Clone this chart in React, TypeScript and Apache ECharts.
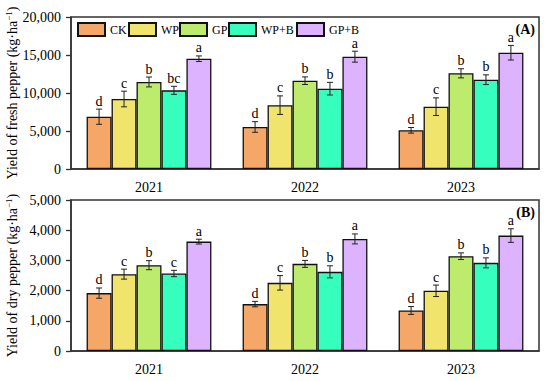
import React, { useEffect, useRef } from "react";
import * as echarts from "echarts";

const years = ["2021", "2022", "2023"];
const treatments = ["CK", "WP", "GP", "WP+B", "GP+B"];
const colors = ["#F4A766", "#F0E46C", "#BDEB6B", "#36FFBE", "#DDB3FF"];

// Fresh yield (kg·ha-1), per treatment, per year
const freshCK = [6880, 5530, 5090];
const freshWP = [9210, 8400, 8200];
const freshGP = [11450, 11620, 12590];
const freshWPB = [10350, 10570, 11750];
const freshGPB = [14510, 14780, 15300];
const freshErrCK = [1000, 700, 370];
const freshErrWP = [1030, 1220, 1160];
const freshErrGP = [650, 500, 600];
const freshErrWPB = [530, 830, 640];
const freshErrGPB = [370, 720, 960];
const freshLetters = [
  ["d", "d", "d"],
  ["c", "c", "c"],
  ["b", "b", "b"],
  ["bc", "b", "b"],
  ["a", "a", "a"],
];

// Dry yield (kg·ha-1)
const dryCK = [1917, 1553, 1342];
const dryWP = [2545, 2257, 1993];
const dryGP = [2842, 2885, 3139];
const dryWPB = [2566, 2621, 2919];
const dryGPB = [3622, 3711, 3822];
const dryErrCK = [170, 90, 130];
const dryErrWP = [165, 240, 190];
const dryErrGP = [150, 115, 110];
const dryErrWPB = [105, 200, 165];
const dryErrGPB = [80, 165, 225];
const dryLetters = [
  ["d", "d", "d"],
  ["c", "c", "c"],
  ["b", "b", "b"],
  ["c", "b", "b"],
  ["a", "a", "a"],
];

const freshTicksMax = 20000;
const freshInterval = 5000;
const dryTicksMax = 5000;
const dryInterval = 1000;

const FONT = "Liberation Serif";
const legendLefts = [77, 128, 179, 228, 296];

export default function App() {
  const ref = useRef<HTMLDivElement>(null);
  useEffect(() => {
    if (!ref.current) return;
    document.body.style.margin = "0";
    const chart = echarts.init(ref.current, undefined, { renderer: "svg" });

    const fresh = [freshCK, freshWP, freshGP, freshWPB, freshGPB];
    const freshErr = [freshErrCK, freshErrWP, freshErrGP, freshErrWPB, freshErrGPB];
    const dry = [dryCK, dryWP, dryGP, dryWPB, dryGPB];
    const dryErr = [dryErrCK, dryErrWP, dryErrGP, dryErrWPB, dryErrGPB];

    const barSeries: any[] = [];
    [0, 1].forEach((g) => {
      const vals = g === 0 ? fresh : dry;
      treatments.forEach((t, i) => {
        barSeries.push({
          type: "bar",
          name: t,
          xAxisIndex: g,
          yAxisIndex: g,
          data: vals[i],
          barGap: "0%",
          barCategoryGap: "20%",
          itemStyle: { color: colors[i], borderColor: "#111", borderWidth: 1.3 },
        });
      });
    });

    const makeErr = (g: number) => {
      const vals = g === 0 ? fresh : dry;
      const errs = g === 0 ? freshErr : dryErr;
      const letters = g === 0 ? freshLetters : dryLetters;
      const data: number[][] = [];
      const lab: string[] = [];
      treatments.forEach((_, s) => {
        years.forEach((_, c) => {
          data.push([c, vals[s][c], errs[s][c], s]);
          lab.push(letters[s][c]);
        });
      });
      return {
        type: "custom",
        xAxisIndex: g,
        yAxisIndex: g,
        silent: true,
        data,
        z: 10,
        renderItem: (params: any, api: any) => {
          const c = api.value(0);
          const v = api.value(1);
          const e = api.value(2);
          const s = api.value(3);
          const center = api.coord([c, v]);
          const band = api.size([1, 0])[0];
          const bw = (band * 0.8) / 5;
          const x = center[0] + (s - 2) * bw;
          const top = api.coord([c, v + e])[1];
          const bot = api.coord([c, v - e])[1];
          const cap = 3;
          const st = { stroke: "#222", lineWidth: 1 };
          return {
            type: "group",
            children: [
              { type: "line", shape: { x1: x, y1: top, x2: x, y2: bot }, style: st },
              { type: "line", shape: { x1: x - cap, y1: top, x2: x + cap, y2: top }, style: st },
              { type: "line", shape: { x1: x - cap, y1: bot, x2: x + cap, y2: bot }, style: st },
              {
                type: "text",
                x: x,
                y: top - 1,
                style: {
                  text: lab[params.dataIndex],
                  fill: "#000",
                  fontSize: 14,
                  fontFamily: FONT,
                  align: "center",
                  verticalAlign: "bottom",
                },
              },
            ],
          };
        },
      };
    };

    const fmt = (v: number) => v.toLocaleString("en-US");

    const xAxisCommon = {
      type: "category",
      data: years,
      axisLine: { lineStyle: { color: "#333", width: 1.5 } },
      axisTick: { alignWithLabel: true, length: 5, lineStyle: { color: "#333", width: 1.3 } },
      axisLabel: { color: "#000", fontSize: 14, fontFamily: FONT, margin: 11 },
    };
    const yAxisCommon = {
      type: "value",
      min: 0,
      nameLocation: "middle",
      nameRotate: 90,
      nameGap: 50,
      nameMoveOverlap: false,
      splitLine: { show: false },
      axisLine: { show: true, lineStyle: { color: "#333", width: 1.5 } },
      axisTick: { show: true, length: 5, lineStyle: { color: "#333", width: 1.3 } },
      axisLabel: { color: "#000", fontSize: 14, fontFamily: FONT, margin: 10, formatter: fmt },
      nameTextStyle: {
        color: "#000",
        fontSize: 14,
        fontFamily: FONT,
        rich: {
          sup: { fontSize: 9, fontFamily: FONT, color: "#000", verticalAlign: "top", padding: [0, 0, 8, 0] },
        },
      },
    };

    const legends = treatments.map((t, i) => ({
      data: [t],
      left: legendLefts[i],
      top: 22,
      padding: 0,
      itemWidth: 27,
      itemHeight: 13,
      itemGap: 0,
      icon: "rect",
      textStyle: { color: "#000", fontSize: 12, fontFamily: FONT },
    }));

    chart.setOption({
      animation: false,
      backgroundColor: "#fff",
      textStyle: { fontFamily: FONT },
      grid: [
        {
          left: 71, right: 11, top: 17, height: 152, show: true, borderColor: "#333", borderWidth: 1.5,
          containLabel: false, outerBoundsMode: "none",
        },
        {
          left: 71, right: 11, top: 200, height: 151, show: true, borderColor: "#333", borderWidth: 1.5,
          containLabel: false, outerBoundsMode: "none",
        },
      ],
      legend: legends,
      xAxis: [
        { ...xAxisCommon, gridIndex: 0 },
        { ...xAxisCommon, gridIndex: 1 },
      ],
      yAxis: [
        {
          ...yAxisCommon,
          gridIndex: 0,
          max: freshTicksMax,
          interval: freshInterval,
          name: "Yield of fresh pepper (kg·ha{sup|−1})",
        },
        {
          ...yAxisCommon,
          gridIndex: 1,
          max: dryTicksMax,
          interval: dryInterval,
          name: "Yield of dry pepper (kg·ha{sup|−1})",
        },
      ],
      graphic: [
        {
          type: "text",
          right: 15,
          top: 22,
          style: { text: "(A)", fill: "#000", fontSize: 14, fontWeight: "bold", fontFamily: FONT },
        },
        {
          type: "text",
          right: 15,
          top: 205,
          style: { text: "(B)", fill: "#000", fontSize: 14, fontWeight: "bold", fontFamily: FONT },
        },
      ],
      series: [...barSeries, makeErr(0), makeErr(1)],
    });

    return () => chart.dispose();
  }, []);
  return <div ref={ref} style={{ width: 550, height: 381 }} />;
}
